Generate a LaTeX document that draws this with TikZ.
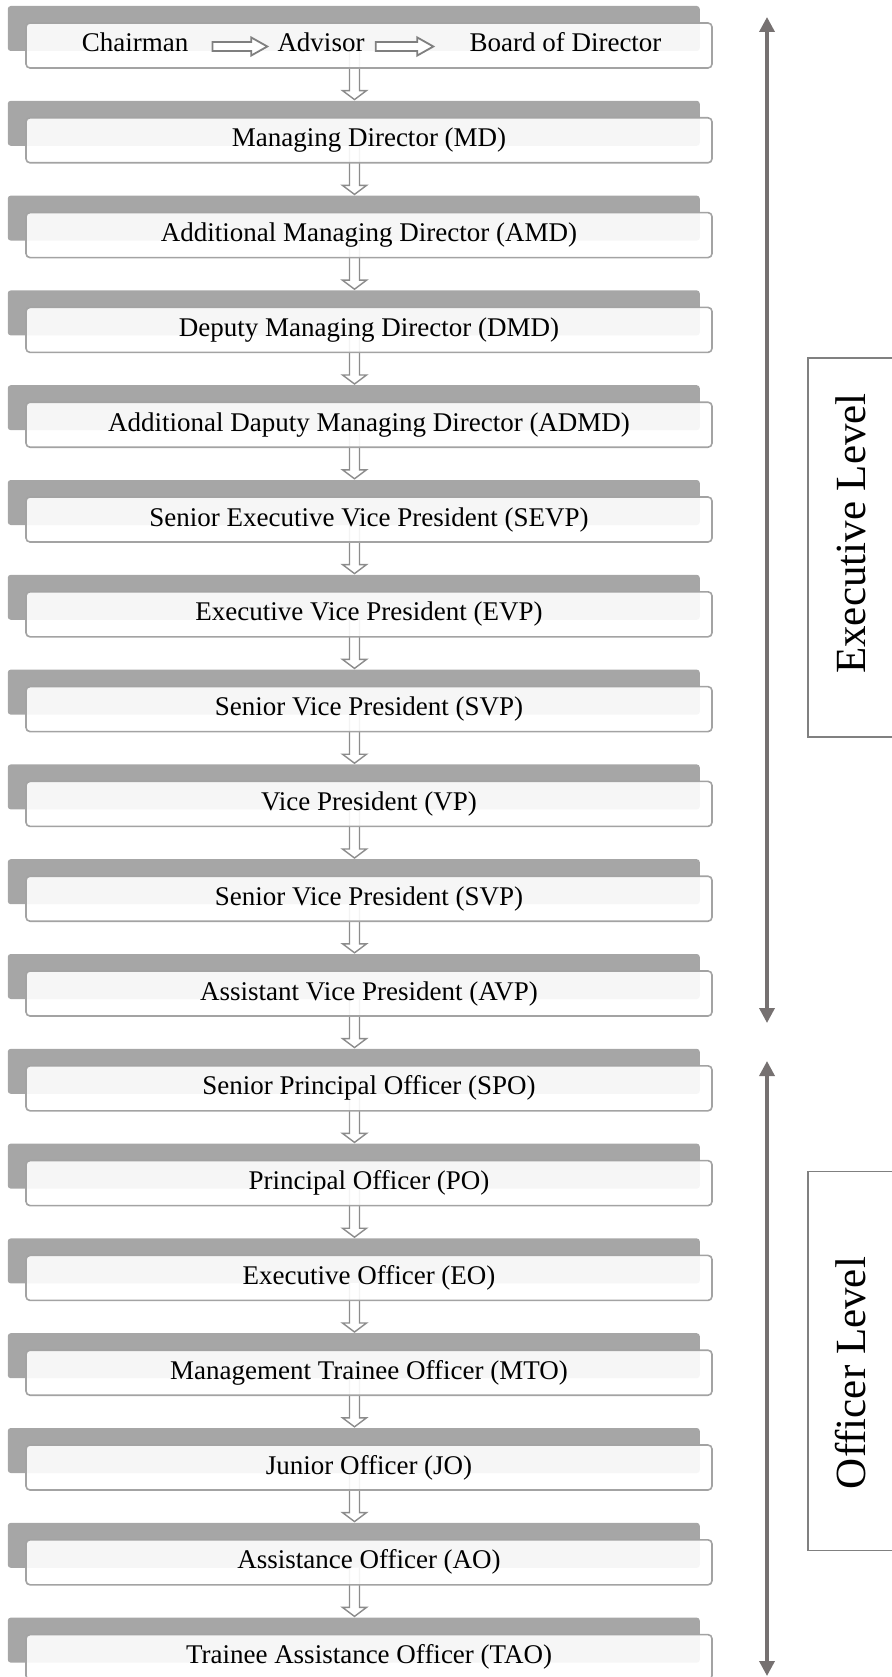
\documentclass[tikz,border=0pt]{standalone}
\usepackage{fontspec}
\setmainfont{Liberation Serif}
\usetikzlibrary{calc,arrows.meta}
\definecolor{backgray}{HTML}{A6A6A6}
\definecolor{framegray}{HTML}{A3A3A3}
\definecolor{linkgray}{HTML}{8C8C8C}
\definecolor{rowlinkgray}{HTML}{7F7F7F}
\definecolor{sidegray}{HTML}{767171}
\definecolor{labelgray}{HTML}{808080}
\pgfdeclarelayer{bars}
\pgfdeclarelayer{links}
\pgfsetlayers{bars,links,main}
\tikzset{
  backbar/.style={rectangle, fill=backgray, rounded corners=3pt,
    minimum width=692pt, minimum height=45pt, inner sep=0pt},
  frontbox/.style={rectangle, draw=framegray, line width=1.6pt, fill=white,
    fill opacity=0.9, text opacity=1, rounded corners=4pt,
    minimum width=686pt, minimum height=45pt, inner sep=0pt,
    font=\fontsize{27}{32}\selectfont, text height=19pt, text depth=6pt},
  rowtext/.style={inner sep=0pt, font=\fontsize{27}{32}\selectfont,
    text height=19pt, text depth=6pt},
  linkarrow/.style={draw=linkgray, line width=1.4pt, fill=white, line join=miter},
  rowlink/.style={draw=rowlinkgray, line width=1.8pt, fill=white, line join=miter},
  sidearrow/.style={draw=sidegray, line width=3.5pt,
    {Triangle[width=15pt,length=15pt]}-{Triangle[width=15pt,length=15pt]}},
  levelbox/.style={rectangle, draw=labelgray, line width=1.8pt,
    minimum width=87pt, minimum height=379pt, inner sep=0pt},
  leveltext/.style={rotate=90, inner sep=0pt, font=\fontsize{43}{48}\selectfont}
}
% hollow arrow pointing down: #1 start of the shaft, #2 tip
\newcommand\downlink[2]{%
  \draw[linkarrow] let \p1=(#1), \p2=(#2) in
    (\x2-5pt,\y1) -- (\x2-5pt,\y2+9pt) -- (\x2-12pt,\y2+9pt) -- (\x2,\y2)
    -- (\x2+12pt,\y2+9pt) -- (\x2+5pt,\y2+9pt) -- (\x2+5pt,\y1);}
% hollow arrow pointing right: #1 tail, #2 tip
\newcommand\rightlink[2]{%
  \draw[rowlink] let \p1=(#1), \p2=(#2) in
    (\x1,\y1+4.5pt) -- (\x2-16pt,\y1+4.5pt) -- (\x2-16pt,\y1+9pt) -- (\x2,\y1)
    -- (\x2-16pt,\y1-9pt) -- (\x2-16pt,\y1-4.5pt) -- (\x1,\y1-4.5pt) -- cycle;}

\begin{document}
\begin{tikzpicture}[x=1pt,y=-1pt]
\useasboundingbox (0,0) rectangle (891,1677);

% rank boxes: grey tab behind a white card
\foreach \i/\t in {0/{},
  1/{Managing Director (MD)},
  2/{Additional Managing Director (AMD)},
  3/{Deputy Managing Director (DMD)},
  4/{Additional Daputy Managing Director (ADMD)},
  5/{Senior Executive Vice President (SEVP)},
  6/{Executive Vice President (EVP)},
  7/{Senior Vice President (SVP)},
  8/{Vice President (VP)},
  9/{Senior Vice President (SVP)},
  10/{Assistant Vice President (AVP)},
  11/{Senior Principal Officer (SPO)},
  12/{Principal Officer (PO)},
  13/{Executive Officer (EO)},
  14/{Management Trainee Officer (MTO)},
  15/{Junior Officer (JO)},
  16/{Assistance Officer (AO)},
  17/{Trainee Assistance Officer (TAO)}}{
  \pgfmathsetmacro\ft{23+94.8*\i}
  \pgfmathsetmacro\by{\ft+5.5}
  \pgfmathsetmacro\fy{\ft+22.5}
  \begin{pgfonlayer}{bars}
    \node[backbar] (back\i) at (353.75,\by) {};
  \end{pgfonlayer}
  \node[frontbox] (front\i) at (369,\fy) {\t};
}

% links between consecutive ranks
\begin{pgfonlayer}{links}
\foreach \i in {0,...,16}{
  \pgfmathtruncatemacro\j{\i+1}
  \coordinate (s\i) at ($(front\i.south)+(-14.5pt,18pt)$);
  \coordinate (t\j) at ($(back\j.north)+(0.75pt,1pt)$);
  \downlink{s\i}{t\j}
}
\end{pgfonlayer}

% top row
\node[rowtext] (chair) at (135,45.5) {Chairman};
\node[rowtext] (adv) at (321,45.5) {Advisor};
\node[rowtext] (bod) at (565.5,45.5) {Board of Director};
\rightlink{$(chair.east)+(24pt,-1pt)$}{$(adv.west)+(-10pt,-1pt)$}
\rightlink{$(adv.east)+(11pt,-1pt)$}{$(bod.west)+(-36pt,-1pt)$}

% level spans
\coordinate (et) at (767,17);
\coordinate (eb) at (767,1023);
\coordinate (ot) at (767,1061);
\coordinate (ob) at (767,1676);
\draw[sidearrow] (et) -- (eb);
\draw[sidearrow] (ot) -- (ob);

\node[levelbox] (execbox) at (851.5,547.5) {};
\node[leveltext] (exectext) at ($(execbox.center)+(-1pt,14pt)$) {Executive Level};
\node[levelbox] (offbox) at (851.5,1361) {};
\node[leveltext] (offtext) at ($(offbox.center)+(-1pt,-12pt)$) {Officer Level};
\end{tikzpicture}
\end{document}
